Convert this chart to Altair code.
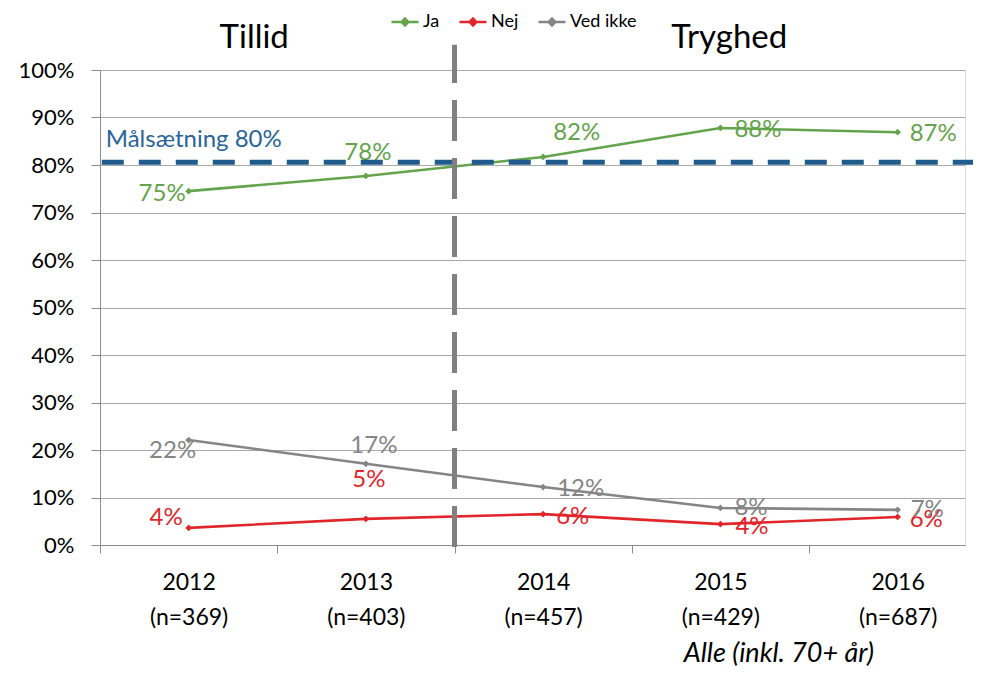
import altair as alt
import pandas as pd

# ---------------- data ----------------
years = ["2012", "2013", "2014", "2015", "2016"]
n_labels = ["(n=369)", "(n=403)", "(n=457)", "(n=429)", "(n=687)"]
series = ["Ja", "Nej", "Ved ikke"]
ja = [74.5, 77.7, 81.7, 87.8, 86.9]
nej = [3.6, 5.5, 6.5, 4.4, 5.9]
ved_ikke = [22.1, 17.1, 12.2, 7.8, 7.4]
ja_lbl = ["75%", "78%", "82%", "88%", "87%"]
nej_lbl = ["4%", "5%", "6%", "4%", "6%"]
ved_lbl = ["22%", "17%", "12%", "8%", "7%"]
target = 80.6
target_label = "Målsætning 80%"
panel_titles = ["Tillid", "Tryghed"]
footnote = "Alle (inkl. 70+ år)"
y_ticks = [0, 10, 20, 30, 40, 50, 60, 70, 80, 90, 100]

# ---------------- styles ----------------
FONT = "Lato"
colors = ["#63A44C", "#E0262A", "#858585"]
GRID = "#A8A8A8"
AXIS = "#8C8C8C"
# label placement per series/point: (align, dx, dy)
label_style = {
    "Ja": [("right", -3, 3), ("center", 2, -23), ("left", 10, -24), ("left", 14, 2), ("left", 12, 2)],
    "Nej": [("right", -6, -10), ("center", 3, -39), ("left", 13, 3), ("left", 15, 3), ("left", 12, 3)],
    "Ved ikke": [("center", -16, 11), ("center", 8, -18), ("left", 14, 2), ("left", 14, 0), ("left", 13, 0)],
}

rows = []
for s, vals, lbls in zip(series, [ja, nej, ved_ikke], [ja_lbl, nej_lbl, ved_lbl]):
    for i, (v, l) in enumerate(zip(vals, lbls)):
        rows.append({"idx": i, "year": years[i], "series": s, "value": v, "label": l})
df = pd.DataFrame(rows)

xscale = alt.Scale(domain=[-0.5, 4.38], nice=False, zero=False)
yscale = alt.Scale(domain=[0, 100], nice=False, zero=False)

label_arr = "[" + ",".join(f"['{y}','{n}']" for y, n in zip(years, n_labels)) + "]"
x_axis = alt.Axis(
    values=[-0.5, 0.5, 1.5, 2.5, 3.5],
    labelExpr=label_arr + "[round(datum.value + 0.5)]",
    labelOffset=88.6,
    labelAlign="center",
    labelBaseline="top",
    labelFlush=False,
    labelOverlap=False,
    labelPadding=18,
    labelLineHeight=35,
    labelFont=FONT,
    labelFontSize=23,
    labelColor="#000000",
    tickSize=8,
    tickColor=AXIS,
    domainColor=AXIS,
    grid=False,
    title=None,
)
y_axis = alt.Axis(
    values=y_ticks,
    labelExpr="datum.value + '%'",
    labelFont=FONT,
    labelFontSize=22,
    labelColor="#000000",
    labelPadding=17,
    tickSize=9,
    tickColor=AXIS,
    domainColor=AXIS,
    grid=True,
    gridColor=GRID,
    title=None,
)

X = alt.X("idx:Q", scale=xscale, axis=x_axis)
Y = alt.Y("value:Q", scale=yscale, axis=y_axis)

color = alt.Color(
    "series:N",
    scale=alt.Scale(domain=series, range=colors),
    legend=alt.Legend(
        title=None,
        orient="none",
        legendX=290,
        legendY=-63,
        direction="horizontal",
        symbolType="M-1,0L1,0M0,-0.25L0.25,0L0,0.25L-0.25,0Z",
        symbolSize=729,
        symbolStrokeWidth=2.5,
        labelFont=FONT,
        labelFontSize=18,
        labelColor="#000000",
        labelOffset=3,
        columnPadding=14,
    ),
)

base = alt.Chart(df)

# percentage labels
label_layers = []
for si, s in enumerate(series):
    for i in range(len(years)):
        align, dx, dy = label_style[s][i]
        label_layers.append(
            base.transform_filter(
                (alt.datum.series == s) & (alt.datum.idx == i)
            ).mark_text(
                font=FONT, fontSize=24, align=align, baseline="middle",
                dx=dx, dy=dy, color=colors[si]
            ).encode(x=X, y=Y, text="label:N")
        )

lines = base.mark_line(strokeWidth=2.6).encode(x=X, y=Y, color=color)
points = base.mark_point(shape="diamond", filled=True, size=45, opacity=1).encode(
    x=X, y=Y, color=alt.Color("series:N", scale=alt.Scale(domain=series, range=colors), legend=None)
)

# target line and label
tgt_df = pd.DataFrame({"idx": [-0.49], "x2": [4.5], "value": [target], "label": [target_label]})
tgt_line = alt.Chart(tgt_df).mark_rule(
    color="#1F5B8D", strokeWidth=5, strokeDash=[22, 15]
).encode(x=X, x2="x2:Q", y=Y)
tgt_text = alt.Chart(tgt_df).mark_text(
    font=FONT, fontSize=24, align="left", baseline="middle", color="#2A6496", dx=4, dy=-22
).encode(x=X, y=Y, text="label:N")

# vertical divider between the two periods
div_df = pd.DataFrame({"idx": [1.5], "value": [-0.4], "y2": [105.3]})
divider = alt.Chart(div_df).mark_rule(
    color="#808080", strokeWidth=5, strokeDash=[41, 17]
).encode(x=X, y=Y, y2="y2:Q")

# panel titles
ttl_df = pd.DataFrame({"idx": [0.37, 3.05], "value": [106.7, 106.7], "label": panel_titles})
titles = alt.Chart(ttl_df).mark_text(
    font=FONT, fontSize=33, align="center", baseline="middle", color="#000000"
).encode(x=X, y=Y, text="label:N")

# footnote
fn_df = pd.DataFrame({"idx": [3.33], "value": [-23.0], "label": [footnote]})
foot = alt.Chart(fn_df).mark_text(
    font=FONT, fontSize=27, fontStyle="italic", align="center", baseline="middle", color="#000000"
).encode(x=X, y=Y, text="label:N")

chart = alt.layer(
    *label_layers, lines, points, tgt_line, tgt_text, divider, titles, foot
).properties(
    width=865,
    height=475,
    autosize=alt.AutoSizeParams(type="none"),
    padding={"left": 92, "top": 62, "right": 8, "bottom": 128},
).configure_view(stroke=None).configure(background="#ffffff")

chart.save("out.html", embed_options={"renderer": "svg", "actions": False})
